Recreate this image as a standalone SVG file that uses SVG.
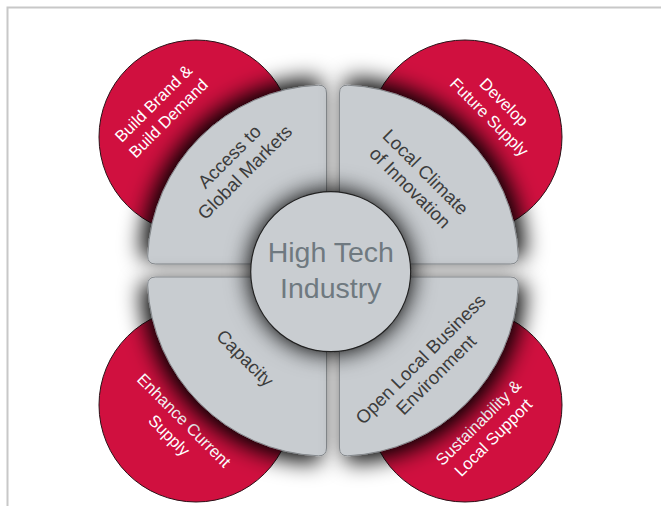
<svg xmlns="http://www.w3.org/2000/svg" width="661" height="506" viewBox="0 0 661 506">
<defs>
<style>
.red{fill:#d0103f;stroke:#2b1218;stroke-width:1}
.quad{fill:#c8ccd0;stroke:#85898d;stroke-width:1}
.rt{font-family:"Liberation Sans",Arial,sans-serif;font-size:16.5px;fill:#ffffff;text-anchor:middle}
.qt{font-family:"Liberation Sans",Arial,sans-serif;font-size:18.5px;fill:#3c3c3c;text-anchor:middle}
.ct{font-family:"Liberation Sans",Arial,sans-serif;font-size:28.5px;fill:#6f7980;text-anchor:middle}
</style>
<path id="qp" d="M0,0 L-171,0 Q-179,0 -178.82,-8 A179,179 0 0 1 -8,-178.82 Q0,-179 0,-171 Z"/>
<filter id="qs" x="-40%" y="-40%" width="180%" height="180%">
<feGaussianBlur in="SourceAlpha" stdDeviation="11"/>
<feOffset dx="-6" dy="-6" result="b"/>
<feComponentTransfer in="b" result="s"><feFuncA type="linear" slope="1.0"/></feComponentTransfer>
<feMerge><feMergeNode in="s"/><feMergeNode in="SourceGraphic"/></feMerge>
</filter>
<filter id="cs" x="-40%" y="-40%" width="180%" height="180%">
<feGaussianBlur in="SourceAlpha" stdDeviation="12"/>
<feComponentTransfer result="s"><feFuncA type="linear" slope="1.1"/></feComponentTransfer>
<feMerge><feMergeNode in="s"/><feMergeNode in="SourceGraphic"/></feMerge>
</filter>
</defs>
<rect width="661" height="506" fill="#ffffff"/>
<path d="M7.5,506 L7.5,7.5 L661,7.5" fill="none" stroke="#c8c8c8" stroke-width="2"/>

<g id="red-build-brand">
<circle class="red" cx="196" cy="137" r="97"/>
<g transform="translate(157.5,107.5) rotate(-45)"><text class="rt" x="0" y="0">Build Brand &amp;</text><text class="rt" x="0" y="21">Build Demand</text></g>
</g>
<g id="red-develop">
<circle class="red" cx="465" cy="137" r="97"/>
<g transform="translate(500,106.2) rotate(45)"><text class="rt" x="0" y="0">Develop</text><text class="rt" x="0" y="21">Future Supply</text></g>
</g>
<g id="red-enhance">
<circle class="red" cx="196" cy="405" r="97"/>
<g transform="translate(180,424.4) rotate(45)"><text class="rt" x="0" y="0">Enhance Current</text><text class="rt" x="0" y="21">Supply</text></g>
</g>
<g id="red-sustain">
<circle class="red" cx="465" cy="405" r="97"/>
<g transform="translate(482.5,426.7) rotate(-45)"><text class="rt" x="0" y="0">Sustainability &amp;</text><text class="rt" x="0" y="21">Local Support</text></g>
</g>

<g id="connectors"></g>

<g id="q-access">
<use href="#qp" class="quad" transform="translate(326.5,264)" filter="url(#qs)"/>
<g transform="translate(233.8,161.2) rotate(-45)"><text class="qt" x="0" y="0">Access to</text><text class="qt" x="0" y="22">Global Markets</text></g>
</g>
<g id="q-climate">
<use href="#qp" class="quad" transform="translate(339.5,264) scale(-1,1)" filter="url(#qs)"/>
<g transform="translate(421.2,176.6) rotate(45)"><text class="qt" x="0" y="0">Local Climate</text><text class="qt" x="0" y="22">of Innovation</text></g>
</g>
<g id="q-capacity">
<use href="#qp" class="quad" transform="translate(326.5,277) scale(1,-1)" filter="url(#qs)"/>
<g transform="translate(240.6,362.7) rotate(45)"><text class="qt" x="0" y="0">Capacity</text></g>
</g>
<g id="q-business">
<use href="#qp" class="quad" transform="translate(339.5,277) scale(-1,-1)" filter="url(#qs)"/>
<g transform="translate(425,363.7) rotate(-45)"><text class="qt" x="0" y="0">Open Local Business</text><text class="qt" x="0" y="22">Environment</text></g>
</g>

<g id="center">
<circle cx="330.7" cy="271.7" r="80" fill="#c9cdd1" stroke="#222222" stroke-width="1.2" filter="url(#cs)"/>
<text class="ct" x="330.8" y="261.7">High Tech</text>
<text class="ct" x="330.8" y="297.5">Industry</text>
</g>
</svg>
